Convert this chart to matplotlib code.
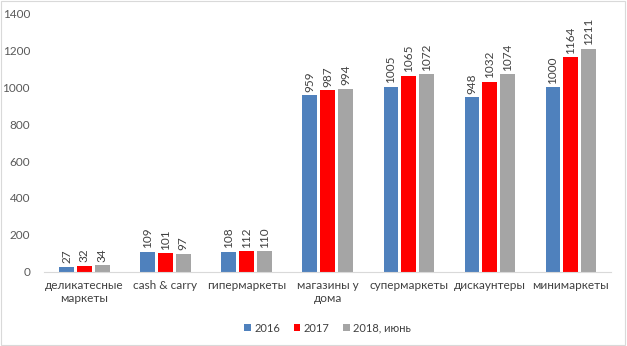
import numpy as np
import matplotlib.pyplot as plt
from matplotlib.patches import Rectangle

plt.rcParams['font.family'] = ['Lato', 'DejaVu Sans']

categories = ['деликатесные\nмаркеты', 'cash & carry', 'гипермаркеты', 'магазины у\nдома',
              'супермаркеты', 'дискаунтеры', 'минимаркеты']
v2016 = [27, 109, 108, 959, 1005, 948, 1000]
v2017 = [32, 101, 112, 987, 1065, 1032, 1164]
v2018 = [34, 97, 110, 994, 1072, 1074, 1211]
series_names = ['2016', '2017', '2018, июнь']
colors = ['#4F81BD', '#FF0000', '#A5A5A5']

fig = plt.figure(figsize=(6.27, 3.46), dpi=100)
ax = fig.add_axes([0.07, 0.215, 0.905, 0.745])

x = np.arange(len(categories))
w = 0.18
step = 0.22
for i, (vals, name, c) in enumerate(zip([v2016, v2017, v2018], series_names, colors)):
    pos = x + (i - 1) * step
    ax.bar(pos, vals, width=w, color=c, label=name)
    for p, v in zip(pos, vals):
        ax.text(p, v + 18, str(v), rotation=90, ha='center', va='bottom',
                fontsize=8.5, color='#404040')

ax.set_xlim(-0.5, len(categories) - 0.5)
ax.set_ylim(0, 1400)
ax.set_yticks(np.arange(0, 1401, 200))
ax.set_xticks(x)
ax.set_xticklabels(categories, fontsize=8.5, color='#404040')
ax.tick_params(axis='y', labelsize=8.5, colors='#595959', length=0, pad=10)
ax.tick_params(axis='x', length=0, pad=6)
for s in ['top', 'right', 'left']:
    ax.spines[s].set_visible(False)
ax.spines['bottom'].set_color('#D9D9D9')

leg = ax.legend(loc='upper center', bbox_to_anchor=(0.5, -0.16), ncol=3, frameon=False,
                fontsize=8, handlelength=0.6, handleheight=0.6, handletextpad=0.3,
                columnspacing=1.2)
for t in leg.get_texts():
    t.set_color('#404040')

fig.patches.append(Rectangle((0.002, 0.003), 0.995, 0.993, transform=fig.transFigure,
                             fill=False, edgecolor='#D9D9D9', linewidth=0.8))

fig.savefig('out.png', dpi=100)
